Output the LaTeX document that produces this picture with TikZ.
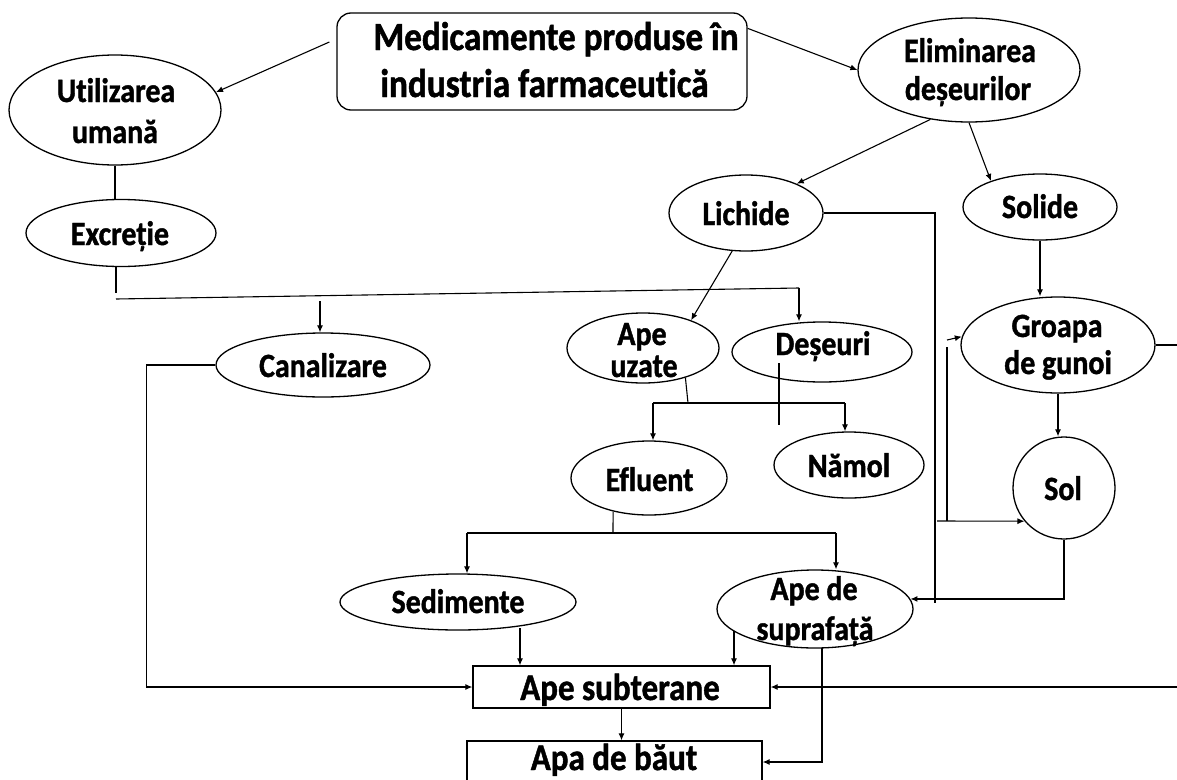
\documentclass[tikz,border=0pt]{standalone}
\usepackage{fontspec}
\setmainfont{Carlito}[Ligatures=NoCommon, FakeStretch=0.88, BoldFeatures={FakeBold=1.2}]
\usetikzlibrary{arrows.meta,calc,shapes.geometric}
\begin{document}
\begin{tikzpicture}[x=1pt,y=-1pt,
  ell/.style={draw, ellipse, line width=1.3pt, inner sep=0pt},
  box/.style={draw, line width=1.3pt, inner sep=0pt},
  lbl/.style={anchor=base, inner sep=0pt, font=\bfseries\fontsize{34}{40}\selectfont},
  big/.style={anchor=base, inner sep=0pt, font=\bfseries\fontsize{40}{46}\selectfont},
  boxlbl/.style={anchor=base, inner sep=0pt, font=\bfseries\fontsize{37.5}{44}\selectfont},
  con/.style={line width=1.1pt},
  arr/.style={con, -{Latex[length=7pt,width=6pt]}},
]
\useasboundingbox (0,0) rectangle (1177,779);
\fill[white] (0,0) rectangle (1177,779);

% ---------- nodes ----------
\node[box, rounded corners=14pt, minimum width=410pt, minimum height=97pt] (med) at (542,61.5) {};
\node[big] (medt1) at (556,50) {Medicamente produse în};
\node[big] (medt2) at (544.5,97) {industria farmaceutică};

\node[ell, minimum width=212pt, minimum height=110pt] (util) at (115,110) {};
\node[lbl] (utilt1) at (116,102) {Utilizarea};
\node[lbl] (utilt2) at (115,143) {umană};

\node[ell, minimum width=190pt, minimum height=67pt] (excr) at (121,233) {};
\node[lbl] (excrt) at (120,245) {Excreție};

\node[ell, minimum width=222pt, minimum height=104pt] (elim) at (969,70) {};
\node[lbl] (elimt1) at (970,62) {Eliminarea};
\node[lbl] (elimt2) at (968,100) {deșeurilor};

\node[ell, minimum width=154pt, minimum height=76pt] (lich) at (746,213) {};
\node[lbl] (licht) at (746,225) {Lichide};

\node[ell, minimum width=154pt, minimum height=66pt] (solide) at (1040,207) {};
\node[lbl] (solidet) at (1040,218) {Solide};

\node[ell, minimum width=214pt, minimum height=64pt] (canal) at (323,365) {};
\node[lbl] (canalt) at (323,377) {Canalizare};

\node[ell, minimum width=152pt, minimum height=70pt] (apeuz) at (643,348) {};
\node[lbl] (apeuzt1) at (642,345) {Ape};
\node[lbl] (apeuzt2) at (644,377) {uzate};

\node[ell, minimum width=180pt, minimum height=60pt] (deseuri) at (822,352) {};
\node[lbl] (deseurit) at (823,355) {Deșeuri};

\node[ell, minimum width=194pt, minimum height=96pt] (groapa) at (1058,345) {};
\node[lbl] (groapat1) at (1057,337) {Groapa};
\node[lbl] (groapat2) at (1058,374) {de gunoi};

\node[ell, minimum width=150pt, minimum height=66pt] (namol) at (849,465) {};
\node[lbl] (namolt) at (849,477) {Nămol};

\node[ell, minimum width=156pt, minimum height=74pt] (efluent) at (649,478) {};
\node[lbl] (efluentt) at (649.5,491) {Efluent};

\node[draw, circle, line width=1.3pt, minimum size=102pt, inner sep=0pt] (sol) at (1064,488) {};
\node[lbl] (solt) at (1063,500) {Sol};

\node[ell, minimum width=236pt, minimum height=56pt] (sed) at (458,602) {};
\node[lbl] (sedt) at (458,613) {Sedimente};

\node[ell, minimum width=196pt, minimum height=78pt] (apesup) at (815,609) {};
\node[lbl] (apesupt1) at (814,600) {Ape de};
\node[lbl] (apesupt2) at (815,640) {suprafață};

\node[box, minimum width=297pt, minimum height=42pt] (subt) at (621.5,687) {};
\node[boxlbl] (subtt) at (620,700) {Ape subterane};

\node[box, minimum width=295pt, minimum height=42pt] (baut) at (614.5,762) {};
\node[boxlbl] (bautt) at (614,770) {Apa de băut};

% ---------- coordinates ----------
\coordinate (j0) at (116,293);
\coordinate (j1) at (116,299);
\coordinate (j2) at (799,288);
\coordinate (j3) at (320,301);
\coordinate (l1) at (935,603);
\coordinate (g0) at (947,340);
\coordinate (g1) at (947,347);
\coordinate (g2) at (947,521);
\coordinate (s1) at (937,521);
\coordinate (gr) at (1185,345);
\coordinate (rt) at (1185,687);
\coordinate (u1) at (688,403);
\coordinate (u2) at (653,403);
\coordinate (u3) at (845,403);
\coordinate (d1) at (779,363);
\coordinate (d2) at (779,425);
\coordinate (e0) at (613,533);
\coordinate (e1) at (467,533);
\coordinate (e2) at (836,533);
\coordinate (p1) at (520,628);
\coordinate (q1) at (734,631);
\coordinate (r1) at (822,648);

% ---------- connectors ----------
\draw[arr] ($(med.west)+(-7,-19.5)$) -- (util.10);
\draw[arr] ($(med.north east)+(0,16)$) -- (elim.west);
\draw[arr] (elim.-128) -- (lich.30);
\draw[arr] (elim.south) -- (solide.152);
\draw[arr] (lich.-110) -- (apeuz.30);

\draw[con] (util.south) -- (util.south |- excr.north);
\draw[con] (excr.south -| j0) -- (j0);
\draw[con] (j1) -- (j2);
\draw[arr] (j2) -- (j2 |- deseuri.north);
\draw[arr] (j3) -- (j3 |- canal.north);
\draw[arr] (canal.west) -- ++(-69,0) |- (subt.west);

\draw[con] (lich.east) -| (l1);
\draw[arr] (g0) -- (groapa.175);
\draw[con] (g1) -- (g2);
\draw[arr] (s1) -- (sol.-140);
\draw[arr] (sol.south) |- (apesup.6);
\draw[arr] (solide.south) -- (solide.south |- groapa.north);
\draw[arr] (groapa.south) -- (groapa.south |- sol.north);
\draw[con] (groapa.east) -- (gr);
\draw[arr] (rt) -- (subt.east);

\draw[con] (apeuz.-35) -- (u1);
\draw[con] (u2) -- (u3);
\draw[arr] (u2) -- (u2 |- efluent.north);
\draw[arr] (u3) -- (u3 |- namol.north);
\draw[con] (d1) -- (d2);

\draw[con] (efluent.-137) -- (e0);
\draw[con] (e1) -- (e2);
\draw[arr] (e1) -- (e1 |- sed.north);
\draw[arr] (e2) -- (e2 |- apesup.north);

\draw[arr] (p1) -- (p1 |- subt.north);
\draw[arr] (q1) -- (q1 |- subt.north);
\draw[arr] (r1) |- (baut.east);
\draw[arr] (subt.south) -- (subt.south |- baut.north);
\end{tikzpicture}
\end{document}
